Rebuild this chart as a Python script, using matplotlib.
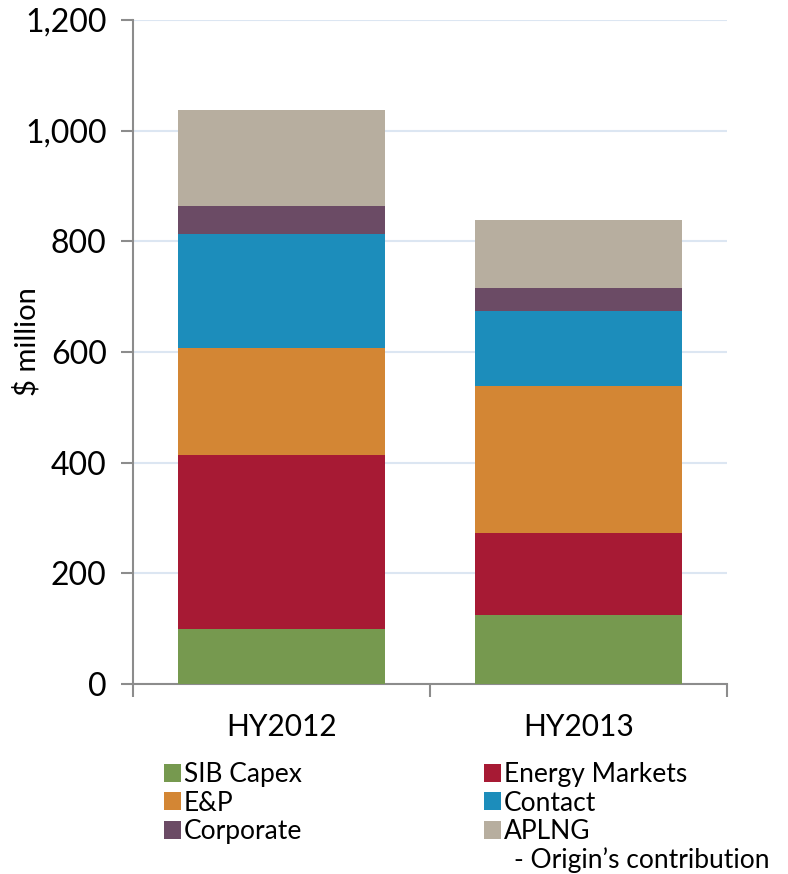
import matplotlib.pyplot as plt
import matplotlib.ticker as mticker
import numpy as np

plt.rcParams['font.family'] = ['Lato', 'DejaVu Sans']

periods = ["HY2012", "HY2013"]
series_names = ["SIB Capex", "Energy Markets", "E&P", "Contact", "Corporate", "APLNG"]
aplng_note = "- Origin\u2019s contribution"
sib_capex = [100, 124]
energy_markets = [313, 148]
e_and_p = [194, 267]
contact = [207, 135]
corporate = [49, 42]
aplng = [175, 122]
colors = ["#76994F", "#A71A34", "#D38634", "#1C8DBB", "#6B4B65", "#B7AE9F"]

series = [sib_capex, energy_markets, e_and_p, contact, corporate, aplng]

fig = plt.figure(figsize=(7.88, 8.74), dpi=100)
ax = fig.add_axes([0.1688, 0.2174, 0.7538, 0.7597])

x = np.arange(len(periods))
bottom = np.zeros(len(periods))
handles = []
for vals, name, c in zip(series, series_names, colors):
    b = ax.bar(x, vals, width=0.7, bottom=bottom, color=c, label=name,
               edgecolor="none", zorder=3)
    handles.append(b)
    bottom += np.array(vals)

ax.set_xlim(-0.5, 1.5)
ax.set_ylim(0, 1200)
ax.set_yticks(np.arange(0, 1201, 200))
ax.yaxis.set_major_formatter(mticker.FuncFormatter(lambda v, p: f"{int(v):,}"))
ax.grid(axis="y", color="#DCE6F2", linewidth=1.5, zorder=0)

ax.set_xticks([-0.5, 0.5, 1.5])
ax.set_xticklabels([])
ax.set_xticks(x, minor=True)
ax.set_xticklabels(periods, minor=True, fontsize=21.5)
ax.tick_params(axis="x", which="minor", length=0, pad=21)
ax.tick_params(axis="x", which="major", length=9, color="#8C8C8C", width=1.5)
ax.tick_params(axis="y", length=9, color="#8C8C8C", width=1.5, labelsize=23, pad=10)

for s in ["top", "right"]:
    ax.spines[s].set_visible(False)
for s in ["left", "bottom"]:
    ax.spines[s].set_color("#8C8C8C")
    ax.spines[s].set_linewidth(1.5)

ax.set_ylabel("$ million", fontsize=21)
ax.yaxis.set_label_coords(-0.155, 0.515)

leg_kw = dict(loc="upper left", frameon=False, fontsize=19, handlelength=0.65,
              handleheight=0.65, handletextpad=0.1, labelspacing=0.13,
              borderaxespad=0, borderpad=0)
fig.legend([handles[i] for i in [0, 2, 4]], [series_names[i] for i in [0, 2, 4]],
           bbox_to_anchor=(0.208, 0.128), **leg_kw)
fig.legend([handles[i] for i in [1, 3, 5]], [series_names[i] for i in [1, 3, 5]],
           bbox_to_anchor=(0.614, 0.128), **leg_kw)
fig.text(0.652, 0.016, aplng_note, fontsize=19, ha="left", va="center")

fig.savefig("out.png", dpi=100)
